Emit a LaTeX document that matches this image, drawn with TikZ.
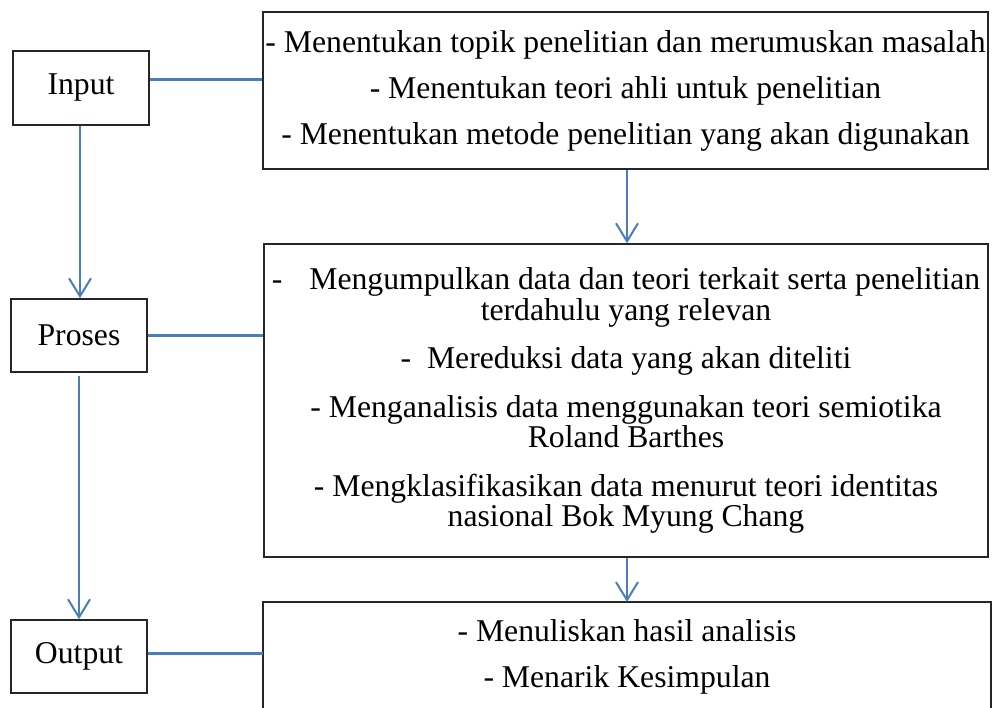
\documentclass[tikz,border=0pt]{standalone}
\usepackage{fontspec}
\setmainfont{Liberation Serif}
\usetikzlibrary{arrows.meta}
\definecolor{lineblue}{HTML}{4A7EBB}
\begin{document}
\begin{tikzpicture}[x=1pt,y=-1pt,
  frame/.style={draw=black!85, line width=1.6pt},
  box/.style={frame, inner sep=0pt, align=center},
  big/.style={font=\fontsize{31.7}{46}\selectfont},
  tight/.style={font=\fontsize{31.7}{30.5}\selectfont},
  link/.style={draw=lineblue, line width=3pt},
  flow/.style={draw=lineblue, line width=2pt, -{Straight Barb[length=18pt,width=22pt,line width=2pt]}}
]
\useasboundingbox (0,0) rectangle (993,708);
% left boxes
\node[box, big, minimum width=136pt, minimum height=74pt] (in) at (81,88) {Input};
\node[box, big, minimum width=136pt, minimum height=73pt] (pr) at (79,335.5) {Proses};
\node[box, big, minimum width=136pt, minimum height=73pt] (out) at (79,656.5) {Output};
% right boxes
\node[box, big, minimum width=725pt, minimum height=157pt] (b1) at (625.5,90.5)
  {- Menentukan topik penelitian dan merumuskan masalah\\
   - Menentukan teori ahli untuk penelitian\\
   - Menentukan metode penelitian yang akan digunakan};
\node[box, tight, minimum width=724pt, minimum height=313pt] (b2) at (626,400.5)
  {-\hspace{0.85em}Mengumpulkan data dan teori terkait serta penelitian\\
   terdahulu yang relevan\\[18pt]
   -\hspace{0.5em}Mereduksi data yang akan diteliti\\[18pt]
   - Menganalisis data menggunakan teori semiotika\\
   Roland Barthes\\[18pt]
   - Mengklasifikasikan data menurut teori identitas\\
   nasional Bok Myung Chang};
\coordinate (b3nw) at (263,602);
\coordinate (b3ne) at (991,602);
\draw[frame] (263,708) -- (b3nw) -- (b3ne) -- (991,708);
\node[big, align=center, inner sep=0pt] (b3) at (627,657)
  {- Menuliskan hasil analisis\\
   - Menarik Kesimpulan};
\coordinate (b3top) at (627,602);
% horizontal links
\draw[link] ([yshift=8pt]in.east) -- ([yshift=8pt]in.east -| b1.west);
\draw[link] (pr.east) -- (pr.east -| b2.west);
\draw[link] ([yshift=3.5pt]out.east) -- ([yshift=3.5pt]out.east -| b3nw);
% vertical arrows
\draw[flow] ([xshift=-1pt]in.south) -- ([xshift=-1pt]in.south |- pr.north);
\draw[flow] ([yshift=-3pt]pr.south) -- (pr.south |- out.north);
\draw[flow] ([xshift=1.5pt]b1.south) -- ([xshift=1.5pt]b1.south |- b2.north);
\draw[flow] (b2.south -| b3top) -- (b3top);
\end{tikzpicture}
\end{document}
